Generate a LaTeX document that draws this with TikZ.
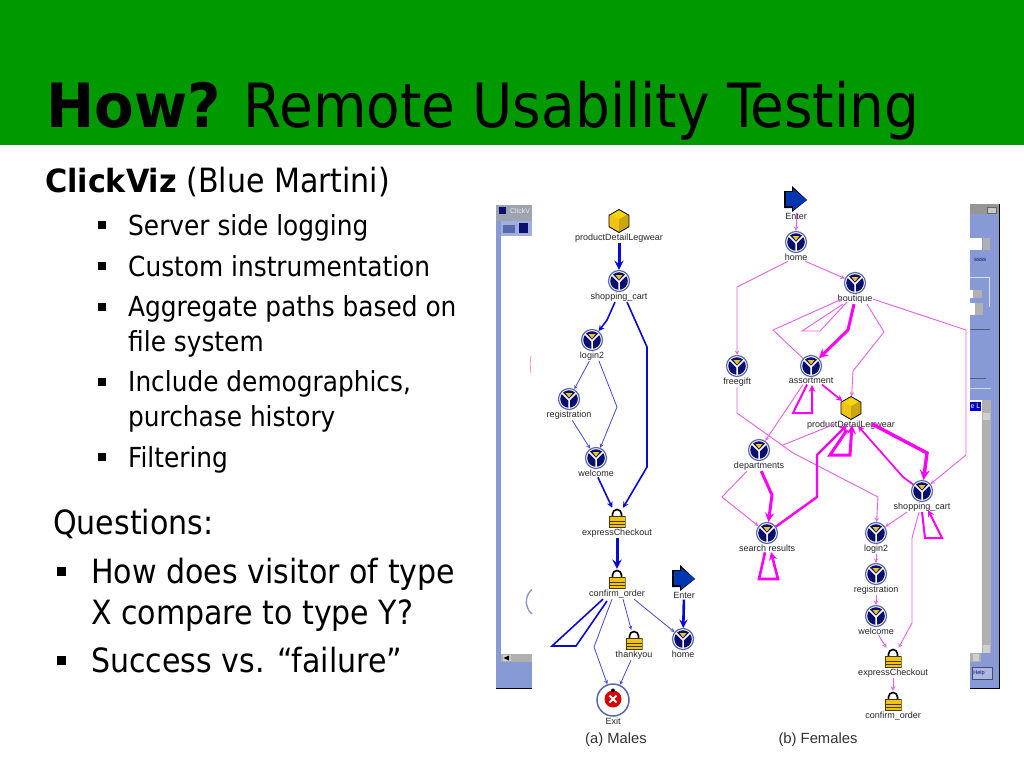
\documentclass[tikz,border=0pt]{standalone}
\usepackage{fontspec}
\setmainfont[BoldFeatures={FakeStretch=1.05}]{DejaVu Sans Condensed}
\newfontfamily\capfont{Liberation Sans}
\usetikzlibrary{shapes.geometric, arrows}
\definecolor{titlegreen}{RGB}{0,153,0}
\definecolor{winblue}{RGB}{136,154,214}
\definecolor{wingray}{RGB}{176,176,176}
\definecolor{navyicon}{RGB}{10,15,110}
\definecolor{ringblue}{RGB}{90,105,170}
\definecolor{goldicon}{RGB}{240,195,20}
\definecolor{maleblue}{RGB}{10,10,215}
\definecolor{malethin}{RGB}{70,70,220}
\definecolor{femthick}{RGB}{250,0,245}
\definecolor{femthin}{RGB}{232,95,232}
\newcommand{\visiticon}{
 \fill[navyicon] (0,0) circle (8.8);
 \draw[white,line width=1.5pt] (0,1) -- (0,10) (0,1) -- (-8,-7) (0,1) -- (8,-7);
 \fill[goldicon] (-3.5,-6) -- (3.5,-6) -- (0,-1.5) -- cycle;
}
\newcommand{\cubeicon}{
 \fill[goldicon!85!black] (0,-2) -- (11,-8) -- (11,11) -- (0,11) -- cycle;
 \fill[goldicon!70!yellow] (0,-2) -- (-11,-8) -- (0,-12) -- (11,-8) -- cycle;
}
\newcommand{\lockicon}{
 \draw[black,line width=1.6pt] (-4.5,0) -- (-4.5,-4) arc (180:360:4.5) -- (4.5,0);
 \fill[goldicon] (-8,-2) rectangle (8,9);
 \draw[black!70!goldicon,line width=0.6pt] (-8,-2) rectangle (8,9) (-8,3) -- (8,3) (-8,6) -- (8,6);
}
\newcommand{\entericon}{
 \fill[black] (-12,-8) -- (-4,-8) -- (-4,-13) -- (11,1) -- (-4,13) -- (-4,9) -- (-12,9) -- cycle;
 \fill[blue!70!cyan!70!black] (-10,-7) -- (-3,-7) -- (-3,-10) -- (11,1) -- (-3,11) -- (-3,7) -- (-10,7) -- cycle;
}
\newcommand{\exiticon}{
 \fill[red!85!black] (0,-1) circle (8.5);
 \fill[black] (0,-9.5) circle (2);
 \draw[white,line width=2pt] (-3.5,-4.5) -- (3.5,2.5) (3.5,-4.5) -- (-3.5,2.5);
}
\begin{document}
\begin{tikzpicture}[x=1pt,y=-1pt,>=stealth]
 % styles
 \tikzstyle{lbl} = [font=\capfont\fontsize{9}{9}\selectfont,inner sep=0.6pt,text=black!85];
 \tikzstyle{visit} = [circle,draw=ringblue,line width=1.2pt,fill=white,minimum size=21pt,inner sep=0pt,label distance=-0.5pt,
   path picture={\begin{scope}[shift={(path picture bounding box.center)}]\visiticon\end{scope}}];
 \tikzstyle{cube} = [regular polygon,regular polygon sides=6,shape border rotate=30,draw=black,line width=0.8pt,fill=goldicon,minimum size=23pt,inner sep=0pt,label distance=-1pt,
   path picture={\begin{scope}[shift={(path picture bounding box.center)}]\cubeicon\end{scope}}];
 \tikzstyle{lock} = [rectangle,minimum width=17pt,minimum height=20pt,inner sep=0pt,label distance=-1pt,
   path picture={\begin{scope}[shift={(path picture bounding box.center)}]\lockicon\end{scope}}];
 \tikzstyle{enter} = [rectangle,minimum width=25pt,minimum height=27pt,inner sep=0pt,label distance=3.5pt,
   path picture={\begin{scope}[shift={(path picture bounding box.center)}]\entericon\end{scope}}];
 \tikzstyle{exit} = [circle,draw=ringblue,line width=1.5pt,fill=white,minimum size=32pt,inner sep=0pt,label distance=-1pt,
   path picture={\begin{scope}[shift={(path picture bounding box.center)}]\exiticon\end{scope}}];
 \tikzstyle{mthick} = [->,maleblue,line width=3pt];
 \tikzstyle{mmid} = [->,maleblue,line width=1.6pt];
 \tikzstyle{mthin} = [->,malethin,line width=0.8pt];
 \tikzstyle{fthick} = [->,femthick,line width=3pt];
 \tikzstyle{fmid} = [->,femthick,line width=1.7pt];
 \tikzstyle{fthin} = [->,femthin,line width=0.9pt];
 \tikzstyle{bodytxt} = [anchor=base west,inner sep=0pt,align=left,font=\fontsize{27.6}{34.2}\selectfont];
 \tikzstyle{bigtxt} = [anchor=base west,inner sep=0pt,align=left,font=\fontsize{33.4}{41}\selectfont];
 \tikzstyle{bull} = [rectangle,fill=black,inner sep=0pt,minimum size=8.5pt];
 \tikzstyle{bigbull} = [rectangle,fill=black,inner sep=0pt,minimum size=9pt];
 \tikzstyle{captxt} = [font=\capfont\fontsize{14.8}{16}\selectfont,text=black!80];

 \useasboundingbox (0,0) rectangle (1024,768);
 \fill[white] (0,0) rectangle (1024,768);

 % slide title
 \fill[titlegreen] (0,0) rectangle (1024,145);
 \node[anchor=base west,inner sep=0pt,font=\fontsize{61}{70}\selectfont] (title) at (46,127) {\textbf{How?} Remote Usability Testing};

 % slide text
 \node[bigtxt] (head) at (45,192) {{\fontsize{32}{38}\selectfont\textbf{ClickViz}} (Blue Martini)};
 \node[bull] (b1) at (102,225) {};
 \node[bodytxt] (t1) at (128,235) {Server side logging};
 \node[bull] (b2) at (102,266) {};
 \node[bodytxt] (t2) at (128,276) {Custom instrumentation};
 \node[bull] (b3) at (102,307) {};
 \node[bodytxt] (t3) at (128,351) {Aggregate paths based on\\file system};
 \node[bull] (b4) at (102,382) {};
 \node[bodytxt] (t4) at (128,426) {Include demographics,\\purchase history};
 \node[bull] (b5) at (102,457) {};
 \node[bodytxt] (t5) at (128,467) {Filtering};
 \node[bigtxt] (q) at (53,534) {Questions:};
 \node[bigbull] (q1b) at (61,571) {};
 \node[bigtxt] (q1) at (91,624) {How does visitor of type\\X compare to type Y?};
 \node[bigbull] (q2b) at (61,660) {};
 \node[bigtxt] (q2) at (91,672) {Success vs. “failure”};

 % left window
 \fill[winblue] (496,205) rectangle (532,689);
 \fill[wingray!80!ringblue] (496,205) rectangle (532,221);
 \fill[winblue!80!white] (501,221) rectangle (532,236);
 \fill[white] (501,236) rectangle (532,654);
 \fill[wingray] (501,654) rectangle (532,662);
 \fill[wingray!60!white] (503,655) rectangle (511,661);
 \fill[black] (503.5,658) -- (509,655.5) -- (509,660.5) -- cycle;
 \fill[navyicon] (499,207) rectangle (506,214);
 \node[inner sep=0pt,font=\capfont\fontsize{7}{8}\selectfont,text=white!75!wingray] (wintitle) at (520,211) {ClickV};
 \fill[ringblue] (503,225) rectangle (515,233);
 \fill[navyicon] (519,223) rectangle (528,233);
 \draw[black,line width=1pt] (496,688.5) -- (532,688.5);
 \draw[red!40!white,line width=0.8pt] (531,373) arc (170:190:50);
 \draw[ringblue!70!white,line width=1.4pt] (532,614) arc (130:230:16);

 % right window
 \fill[winblue] (970,204) rectangle (999,689);
 \fill[wingray!85!black] (970,204) rectangle (999,214);
 \fill[wingray!70!white,draw=black!60] (987,207) rectangle (996,213);
 \fill[black] (998.5,204) rectangle (999.8,689);
 \fill[white] (970,238) rectangle (982,250);
 \fill[wingray] (983,238) rectangle (990,250);
 \node[inner sep=0pt,font=\capfont\fontsize{6}{7}\selectfont,text=navyicon] (hint) at (980,260) {ssss};
 \draw[white!70!winblue] (970,277) -- (989,277) -- (989,307);
 \fill[white] (970,290) rectangle (973,298);
 \fill[wingray] (973,290) rectangle (982,298);
 \fill[white] (970,303) rectangle (975,315);
 \fill[wingray] (975,303) rectangle (983,315);
 \draw[black!40!winblue] (970,329) -- (990,329);
 \draw[black!40!winblue] (970,378) -- (986,378);
 \draw[white!60!winblue] (970,388) -- (991,388);
 \fill[white] (970,400) rectangle (982,653);
 \fill[wingray] (982,400) rectangle (991,653);
 \fill[blue!80!black] (970,402) rectangle (981,411);
 \node[inner sep=0pt,font=\capfont\fontsize{7}{8}\selectfont,text=white] (sel) at (975.5,406.5) {e L};
 \fill[wingray!60!white] (983,413) rectangle (990,420);
 \fill[wingray!60!white] (983,645) rectangle (990,653);
 \fill[wingray] (970,653) rectangle (981,662);
 \fill[wingray!60!white] (973,654) rectangle (979,661);
 \fill[winblue!70!white,draw=black!50!winblue] (972,667) rectangle (992,679);
 \node[inner sep=0pt,font=\capfont\fontsize{5.5}{6}\selectfont,text=navyicon] (help) at (979,673) {Help};
 \draw[black,line width=1pt] (970,688.5) -- (999.8,688.5);

 % nodes, males
 \node[cube,label={[lbl,name=mdetail-l]below:productDetailLegwear}] (mdetail) at (619,221) {};
 \node[visit,label={[lbl,name=mcart-l]below:shopping\_cart}] (mcart) at (619,281) {};
 \node[visit,label={[lbl,name=mlogin-l]below:login2}] (mlogin) at (592,340) {};
 \node[visit,label={[lbl,name=mreg-l]below:registration}] (mreg) at (569,399) {};
 \node[visit,label={[lbl,name=mwelcome-l]below:welcome}] (mwelcome) at (596,458) {};
 \node[lock,label={[lbl,name=mexpress-l]below:expressCheckout}] (mexpress) at (617,518) {};
 \node[lock,label={[lbl,name=mconfirm-l]below:confirm\_order}] (mconfirm) at (617,579) {};
 \node[enter,label={[lbl,name=menter-l]below:Enter}] (menter) at (684,578) {};
 \node[visit,label={[lbl,name=mhome-l]below:home}] (mhome) at (683,639) {};
 \node[lock,label={[lbl,name=mthanks-l]below:thankyou}] (mthanks) at (634,640) {};
 \node[exit,label={[lbl,name=mexit-l]below:Exit}] (mexit) at (613,700) {};
 \node[captxt] (mcap) at (616,740) {(a) Males};

 % nodes, females
 \node[enter,label={[lbl,name=fenter-l]below:Enter}] (fenter) at (796,199) {};
 \node[visit,label={[lbl,name=fhome-l]below:home}] (fhome) at (796,242) {};
 \node[visit,label={[lbl,name=fbout-l]below:boutique}] (fbout) at (855,283) {};
 \node[visit,label={[lbl,name=fgift-l]below:freegift}] (fgift) at (737,366) {};
 \node[visit,label={[lbl,name=fassort-l]below:assortment}] (fassort) at (811,366) {};
 \node[cube,label={[lbl,name=fdetail-l]below:productDetailLegwear}] (fdetail) at (851,408) {};
 \node[visit,label={[lbl,name=fdept-l]below:departments}] (fdept) at (759,450) {};
 \node[visit,label={[lbl,name=fcart-l]below:shopping\_cart}] (fcart) at (922,491) {};
 \node[visit,label={[lbl,name=fsearch-l]below:search results}] (fsearch) at (767,533) {};
 \node[visit,label={[lbl,name=flogin-l]below:login2}] (flogin) at (876,533) {};
 \node[visit,label={[lbl,name=freg-l]below:registration}] (freg) at (876,574) {};
 \node[visit,label={[lbl,name=fwelcome-l]below:welcome}] (fwelcome) at (876,616) {};
 \node[lock,label={[lbl,name=fexpress-l]below:expressCheckout}] (fexpress) at (893,658) {};
 \node[lock,label={[lbl,name=fconfirm-l]below:confirm\_order}] (fconfirm) at (893,701) {};
 \node[captxt] (fcap) at (818,740) {(b) Females};

 % edges, males
 \draw[mthick] (mdetail-l) -- (mcart);
 \draw[mmid] (mcart-l.south) ++(-4,0) -- (607,320) -- (mlogin);
 \draw[mmid] (mcart-l.south) ++(8,0) -- (647,347) -- (647,467) -- (mexpress);
 \draw[mthin] (mlogin-l) -- (mreg);
 \draw[mthin] (mlogin-l.south) ++(7,0) -- (617,407) -- (mwelcome);
 \draw[mthin] (mreg-l) -- (mwelcome);
 \draw[mmid] (mwelcome-l) -- (mexpress);
 \draw[mthick] (mexpress-l) -- (mconfirm);
 \draw[mmid,-] (mconfirm-l.south) ++(-14,0) -- (552,646) -- (576,646) -- (607,601);
 \draw[mthin] (mconfirm-l.south) ++(-5,0) -- (594,647) -- (mexit);
 \draw[mthin] (mconfirm-l.south) ++(6,0) -- (mthanks);
 \draw[mthin] (mconfirm-l.south) ++(17,0) -- (mhome);
 \draw[mthin] (mthanks-l.south) ++(-3,0) -- (mexit);
 \draw[mthick,line width=2.6pt] (menter-l) -- (mhome);

 % edges, females
 \draw[fthin,line width=1pt] (fenter) -- (fhome);
 \draw[fthin] (fhome-l) -- (fbout);
 \draw[fthin] (fhome-l) -- (737,287) -- (fgift);
 \draw[fthick] (fbout-l.south) ++(-1,0) -- (848,330) -- (fassort);
 \draw[fthin,-] (fbout-l.south) ++(-12,0) -- (802,331) -- (820,331) -- (847,302);
 \draw[fthin] (fassort) -- (773,330) -- (842,299);
 \draw[fthin] (fbout-l.south) ++(12,0) -- (884,332) -- (853,371) -- (fdetail);
 \draw[fthin] (fbout-l.east) -- (966,330) -- (966,455) -- (fcart);
 \draw[fthin] (fgift-l) -- (737,413) -- (793,453) -- (878,497) -- (flogin);
 \draw[fmid] (fassort-l.south) ++(11,0) -- (fdetail);
 \draw[fmid,line width=2pt] (fassort-l.south) ++(-4,0) -- (793,413) -- (812,413) -- (812,385);
 \draw[fthin] (fassort-l.south) ++(-8,0) -- (fdept);
 \draw[fthin,<-] (fdetail-l.north) ++(-16,4) -- (783,445);
 \draw[fthick] (fdetail-l.south) ++(-4,0) -- (830,455) -- (850,455) -- (852,425);
 \draw[fthick,line width=2.4pt] (fsearch) -- (817,497) -- (817,455) -- (847,425);
 \draw[fthick] (fdept-l) -- (772,495) -- (fsearch);
 \draw[fthin] (fdept-l.south) ++(-12,0) -- (722,497) -- (fsearch);
 \draw[fthick,line width=3.4pt] (fdetail-l.north) ++(21,4) -- (927,453) -- (fcart);
 \draw[fmid] (fcart) -- (903,477) -- (858,426);
 \draw[fthin] (fcart-l.south) ++(-15,0) -- (flogin);
 \draw[fthin] (fcart-l.south) ++(-3,0) -- (912,538) -- (912,623) -- (fexpress);
 \draw[fmid,line width=2pt] (fcart-l.south) ++(0,0) -- (925,538) -- (942,538) -- (928,510);
 \draw[fthick,line width=2.6pt] (fsearch-l.south) ++(-2,0) -- (759,579) -- (778,579) -- (771,552);
 \draw[fthin,line width=1pt] (flogin-l) -- (freg);
 \draw[fthin,line width=1pt] (freg-l) -- (fwelcome);
 \draw[fthin,line width=1pt] (fwelcome-l) -- (fexpress);
 \draw[fthin,line width=1pt] (fexpress-l) -- (fconfirm);
\end{tikzpicture}
\end{document}
